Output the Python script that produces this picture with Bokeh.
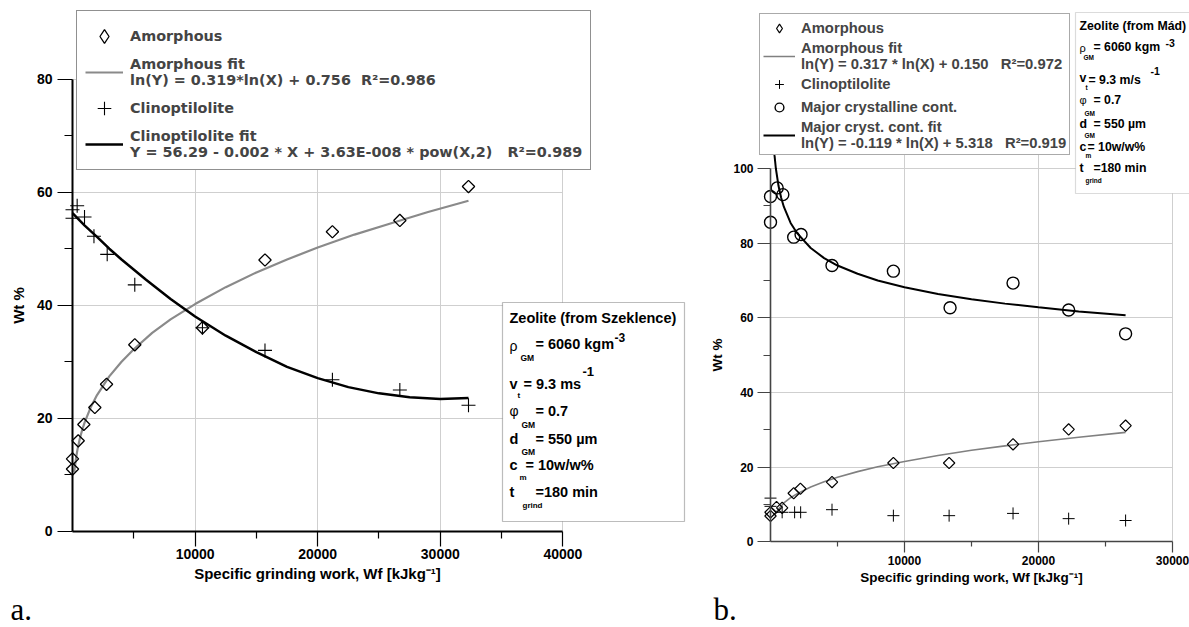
import numpy as np
from bokeh.plotting import figure
from bokeh.models import FixedTicker, Legend, LegendItem, Label, BoxAnnotation
from bokeh.layouts import row
from bokeh.embed import file_html
from bokeh.resources import INLINE

# ---------------- panel a data (Szeklence) ----------------
a_amorph_x = [0, 0, 465, 925, 1820, 2775, 5080, 10600, 15700, 21200, 26700, 32300]
a_amorph_y = [11.0, 12.8, 16.0, 18.9, 21.9, 26.0, 33.0, 36.0, 48.0, 53.0, 55.0, 61.0]
a_clino_x = [0, 0, 380, 980, 1750, 2830, 5080, 10600, 15700, 21200, 26700, 32300]
a_clino_y = [56.9, 55.4, 57.6, 55.6, 52.2, 49.0, 43.6, 36.0, 32.0, 26.8, 25.0, 22.3]
a_amfit_x = [150, 200, 300, 400, 600, 800, 1000, 1500, 2000, 3000, 4000, 5000, 6500, 8000,
             10000, 12500, 15000, 17500, 20000, 23000, 26000, 29000, 32300]
a_amfit_y = [10.5, 11.5, 13.1, 14.4, 16.4, 18.0, 19.3, 22.0, 24.1, 27.4, 30.0, 32.2, 35.1, 37.5,
             40.2, 43.2, 45.8, 48.1, 50.2, 52.5, 54.5, 56.5, 58.5]
a_clfit_x = [0, 1000, 2000, 3000, 4000, 6000, 8000, 10000, 12500, 15000, 17500, 20000,
             22500, 25000, 27500, 30000, 32300]
a_clfit_y = [56.3, 54.1, 52.1, 50.0, 48.1, 44.5, 41.1, 38.0, 34.6, 31.7, 29.1, 27.1,
             25.5, 24.4, 23.7, 23.4, 23.6]
a_xticks = [10000, 20000, 30000, 40000]
a_xminor = [5000, 15000, 25000, 35000]
a_yticks = [0, 20, 40, 60, 80]
a_yminor = [10, 30, 50, 70]
a_labels = ["Amorphous",
            "Amorphous fit\nln(Y) = 0.319*ln(X) + 0.756  R\u00b2=0.986",
            "Clinoptilolite",
            "Clinoptilolite fit\nY = 56.29 - 0.002 * X + 3.63E-008 * pow(X,2)   R\u00b2=0.989"]

# ---------------- panel b data (Mád) ----------------
b_amorph_x = [0, 0, 450, 870, 1730, 2230, 4590, 9170, 13330, 18100, 22250, 26500]
b_amorph_y = [6.9, 7.9, 9.3, 9.1, 13.0, 14.2, 16.0, 21.1, 21.1, 26.1, 30.1, 31.1]
b_clino_x = [0, 0, 870, 1800, 2250, 4590, 9170, 13330, 18100, 22250, 26500]
b_clino_y = [11.7, 9.5, 7.9, 7.9, 7.9, 8.6, 7.0, 7.0, 7.6, 6.2, 5.7]
b_cryst_x = [0, 0, 500, 920, 1730, 2280, 4590, 9170, 13400, 18100, 22250, 26500]
b_cryst_y = [92.5, 85.6, 94.8, 93.0, 81.6, 82.3, 74.0, 72.5, 62.7, 69.3, 62.1, 55.7]
b_amfit_x = [300, 600, 1000, 1500, 2000, 3000, 4000, 5000, 6500, 8000, 10000, 12500,
             15000, 17500, 20000, 23000, 26500]
b_amfit_y = [7.1, 8.8, 10.4, 11.8, 12.9, 14.7, 16.1, 17.3, 18.8, 20.1, 21.5, 23.1,
             24.5, 25.7, 26.8, 28.0, 29.3]
b_crfit_x = [250, 300, 400, 600, 800, 1000, 1500, 2000, 3000, 4000, 5000, 6500, 8000,
             10000, 12500, 15000, 17500, 20000, 23000, 26500]
b_crfit_y = [105.7, 103.5, 100.0, 95.3, 92.1, 89.7, 85.4, 82.6, 78.7, 76.0, 74.0, 71.8, 70.0,
             68.2, 66.4, 65.0, 63.8, 62.8, 61.7, 60.7]
b_xticks = [10000, 20000, 30000]
b_xminor = [5000, 15000, 25000]
b_yticks = [0, 20, 40, 60, 80, 100]
b_yminor = [10, 30, 50, 70, 90]
b_labels = ["Amorphous",
            "Amorphous fit\nln(Y) = 0.317 * ln(X) + 0.150   R\u00b2=0.972",
            "Clinoptilolite",
            "Major crystalline cont.",
            "Major cryst. cont. fit\nln(Y) = -0.119 * ln(X) + 5.318   R\u00b2=0.919"]

XLABEL = "Specific grinding work, Wf [kJkg\u207b\u00b9]"
SANS = "Liberation Sans"
NAN = [float("nan")]   # legend-key only renderer (draws no mark)


def style_axes(p, xt, xm, yt, ym, xb, yb, tick_font, lab_font, col, lw,
               ytick_out, ytick_minor, xtick_out, xtick_minor, ystand, ylabstand,
               xstand, xlabstand, grid_top):
    ya = p.yaxis[0]
    ya.fixed_location = 0
    ya.bounds = yb
    ya.ticker = FixedTicker(ticks=yt, minor_ticks=ym)
    xa = p.xaxis[0]
    xa.fixed_location = 0
    xa.bounds = xb
    xa.ticker = FixedTicker(ticks=xt, minor_ticks=xm)
    for ax in (xa, ya):
        ax.axis_line_color = col
        ax.axis_line_width = lw
        ax.major_tick_line_color = col
        ax.minor_tick_line_color = col
        ax.major_tick_line_width = 1.2
        ax.minor_tick_line_width = 1.2
        ax.major_tick_in = 0
        ax.minor_tick_in = 0
        ax.major_label_text_font = SANS
        ax.major_label_text_font_style = "bold"
        ax.major_label_text_font_size = tick_font
        ax.major_label_text_color = "black"
        ax.axis_label_text_font = SANS
        ax.axis_label_text_font_style = "bold"
        ax.axis_label_text_font_size = lab_font
        ax.axis_label_text_color = "black"
    ya.major_tick_out = ytick_out
    ya.minor_tick_out = ytick_minor
    xa.major_tick_out = xtick_out
    xa.minor_tick_out = xtick_minor
    ya.major_label_standoff = ystand
    ya.axis_label_standoff = ylabstand
    xa.major_label_standoff = xstand
    xa.axis_label_standoff = xlabstand
    ya.axis_label = "Wt %"
    xa.axis_label = XLABEL
    p.xgrid.ticker = FixedTicker(ticks=xt)
    p.ygrid.ticker = FixedTicker(ticks=[t for t in yt if t != 0])
    try:
        p.xgrid.cross_bounds = (0, grid_top)
        p.ygrid.cross_bounds = (0, xb[1])
    except Exception:
        pass
    for g in (p.xgrid, p.ygrid):
        g.grid_line_color = "#cfcfcf"
        g.grid_line_width = 1
    p.outline_line_color = None


def add_text(p, x, y, text, size, bold=True, font=SANS, baseline="middle"):
    p.add_layout(Label(x=x, y=y, x_units="canvas", y_units="canvas", text=text,
                       text_font=font, text_font_size=size,
                       text_font_style="bold" if bold else "normal",
                       text_color="black", text_align="left", text_baseline=baseline))


def add_box(p, left, right, top, bottom, color):
    p.add_layout(BoxAnnotation(left=left, right=right, top=top, bottom=bottom,
                               left_units="canvas", right_units="canvas",
                               top_units="canvas", bottom_units="canvas",
                               fill_color="white", fill_alpha=1.0,
                               line_color=color, line_width=1.2))


# ======================= panel a =======================
pa = figure(width=702, height=627, x_range=(-5873, 51387), y_range=(-17.04, 93.93),
            output_backend="svg", toolbar_location=None, min_border=0,
            background_fill_color="white", border_fill_color="white")
style_axes(pa, a_xticks, a_xminor, a_yticks, a_yminor, (0, 40000), (0, 80),
           "14px", "15px", "black", 2, 15, 8, 15, 7, 5, 7, 3, 2, 91.7)

ra_amfit = pa.line(a_amfit_x, a_amfit_y, line_color="#8a8a8a", line_width=2.2)
ra_clfit = pa.line(a_clfit_x, a_clfit_y, line_color="black", line_width=2.5)
pa.scatter(a_amorph_x, a_amorph_y, marker="square", angle=np.pi / 4, size=8.7,
           fill_color=None, line_color="black", line_width=1.3)
ra_cl = pa.scatter(a_clino_x, a_clino_y, marker="cross", size=14,
                   line_color="black", line_width=1.1)
ra_key = pa.scatter(NAN, NAN, marker="diamond", size=14,
                    fill_color=None, line_color="black", line_width=1.3)

leg_a = Legend(items=[LegendItem(label=a_labels[0], renderers=[ra_key]),
                      LegendItem(label=a_labels[1], renderers=[ra_amfit]),
                      LegendItem(label=a_labels[2], renderers=[ra_cl]),
                      LegendItem(label=a_labels[3], renderers=[ra_clfit])],
               location=(76, 457), orientation="vertical",
               glyph_width=38, glyph_height=34, label_height=34, label_standoff=7,
               padding=8, spacing=2, margin=0,
               label_text_font="DejaVu Sans", label_text_font_style="bold",
               label_text_font_size="14.4px", label_text_line_height=1.15,
               border_line_color="#222222", border_line_width=1.3,
               background_fill_color="white", background_fill_alpha=1.0)
pa.add_layout(leg_a)

add_box(pa, 502, 684, 302, 521, "#222222")
add_text(pa, 509, 317, "Zeolite (from Szeklence)", "14.5px")
add_text(pa, 509, 345, "\u03c1", "14px", bold=False)
add_text(pa, 520, 357, "GM", "8.5px")
add_text(pa, 535, 343, "= 6060 kgm", "14.5px")
add_text(pa, 614, 337, "-3", "12px")
add_text(pa, 509, 383, "v", "14.5px")
add_text(pa, 517, 395, "t", "8px")
add_text(pa, 523, 383, "= 9.3 ms", "14.5px")
add_text(pa, 582, 371, "-1", "13px")
add_text(pa, 509, 410, "\u03c6", "14px", bold=False)
add_text(pa, 521, 424, "GM", "8.5px")
add_text(pa, 535, 410, "= 0.7", "14.5px")
add_text(pa, 509, 438, "d", "14.5px")
add_text(pa, 521, 451, "GM", "8.5px")
add_text(pa, 535, 438, "= 550 \u00b5m", "14.5px")
add_text(pa, 509, 464, "c", "14.5px")
add_text(pa, 519, 477, "m", "8px")
add_text(pa, 525, 464, "= 10w/w%", "14.5px")
add_text(pa, 509, 491, "t", "14.5px")
add_text(pa, 522, 505, "grind", "8px")
add_text(pa, 535, 491, "=180 min", "14.5px")
add_text(pa, 10, 609, "a.", "31px", bold=False, font="Liberation Serif")

# ======================= panel b =======================
pb = figure(width=487, height=627, x_range=(-5075, 31269), y_range=(-22.96, 145.0),
            output_backend="svg", toolbar_location=None, min_border=0,
            background_fill_color="white", border_fill_color="white")
style_axes(pb, b_xticks, b_xminor, b_yticks, b_yminor, (0, 30000), (0, 100),
           "12px", "13.5px", "#444444", 1.6, 13, 7, 11, 5, 4, 5, 3, 2, 141.5)

rb_amfit = pb.line(b_amfit_x, b_amfit_y, line_color="#808080", line_width=1.6)
rb_crfit = pb.line(b_crfit_x, b_crfit_y, line_color="black", line_width=2.0)
pb.scatter(b_amorph_x, b_amorph_y, marker="square", angle=np.pi / 4, size=8,
           fill_color=None, line_color="black", line_width=1.2)
rb_cl = pb.scatter(b_clino_x, b_clino_y, marker="cross", size=12,
                   line_color="black", line_width=1.0)
rb_cr = pb.scatter(b_cryst_x, b_cryst_y, marker="circle", size=12,
                   fill_color=None, line_color="black", line_width=1.4)
rb_key = pb.scatter(NAN, NAN, marker="diamond", size=12,
                    fill_color=None, line_color="black", line_width=1.2)

leg_b = Legend(items=[LegendItem(label=b_labels[0], renderers=[rb_key]),
                      LegendItem(label=b_labels[1], renderers=[rb_amfit]),
                      LegendItem(label=b_labels[2], renderers=[rb_cl]),
                      LegendItem(label=b_labels[3], renderers=[rb_cr]),
                      LegendItem(label=b_labels[4], renderers=[rb_crfit])],
               location=(57, 472), orientation="vertical",
               glyph_width=32, glyph_height=22, label_height=20, label_standoff=6,
               padding=3, spacing=1, margin=0,
               label_text_font=SANS, label_text_font_style="bold",
               label_text_font_size="14.8px", label_text_line_height=1.1,
               border_line_color="#555555", border_line_width=1.3,
               background_fill_color="white", background_fill_alpha=1.0)
pb.add_layout(leg_b)

add_box(pb, 373, 495, 12, 193, "#888888")
add_text(pb, 377, 25, "Zeolite (from M\u00e1d)", "12.3px")
add_text(pb, 377, 47, "\u03c1", "11px", bold=False)
add_text(pb, 381, 57, "GM", "6.5px")
add_text(pb, 391, 46.7, "= 6060 kgm", "12.3px")
add_text(pb, 463, 42, "-3", "10.5px")
add_text(pb, 377, 77, "v", "12.3px")
add_text(pb, 383, 87, "t", "6.5px")
add_text(pb, 386, 79, "= 9.3 m/s", "12.3px")
add_text(pb, 448, 70, "-1", "10.5px")
add_text(pb, 377, 99, "\u03c6", "11px", bold=False)
add_text(pb, 382, 113, "GM", "6.5px")
add_text(pb, 391, 99, "= 0.7", "12.3px")
add_text(pb, 377, 123, "d", "12.3px")
add_text(pb, 382, 135, "GM", "6.5px")
add_text(pb, 391, 123, "= 550 \u00b5m", "12.3px")
add_text(pb, 377, 146, "c", "12.3px")
add_text(pb, 383, 155, "m", "6.5px")
add_text(pb, 385, 146, "= 10w/w%", "12.3px")
add_text(pb, 377, 167, "t", "12.3px")
add_text(pb, 383, 180, "grind", "6.5px")
add_text(pb, 391, 167, "=180 min", "12.3px")
add_text(pb, 11, 609, "b.", "31px", bold=False, font="Liberation Serif")

layout = row(pa, pb)
open("out.html", "w").write(file_html(layout, INLINE))
